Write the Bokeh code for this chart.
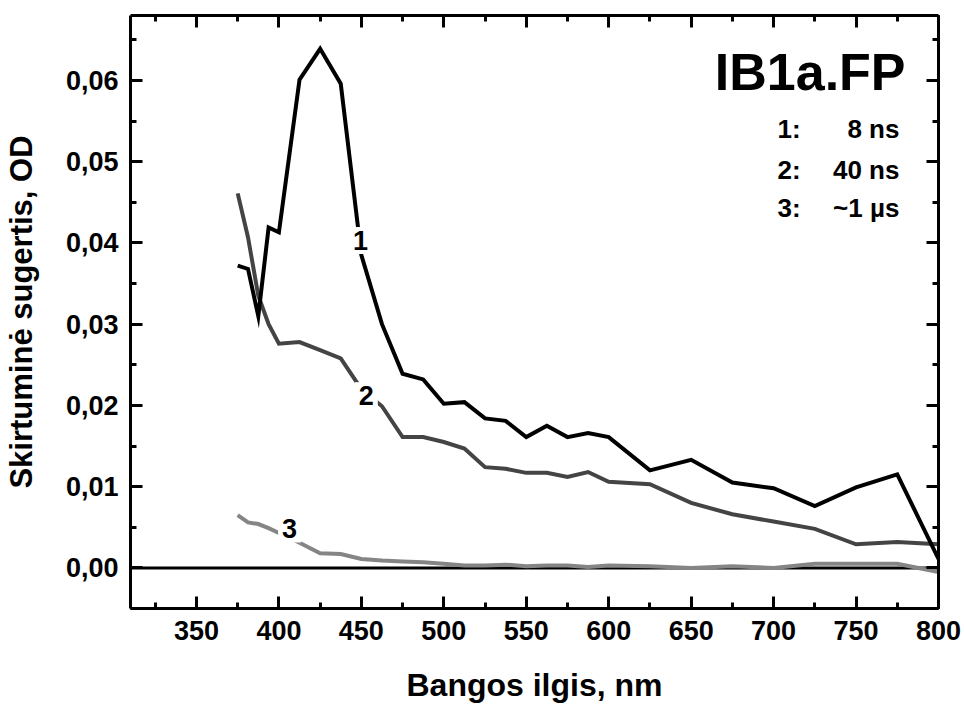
from bokeh.plotting import figure
from bokeh.models import (LinearAxis, SingleIntervalTicker, CustomJSTickFormatter,
                          Range1d, Span, Label)
from bokeh.embed import file_html
from bokeh.resources import INLINE

# ---- data ----
wl_nm = [375, 381.25, 387.5, 393.75, 400, 412.5, 425, 437.5, 450, 462.5, 475, 487.5,
         500, 512.5, 525, 537.5, 550, 562.5, 575, 587.5, 600, 625, 650, 675, 700,
         725, 750, 775, 800]
od_8ns = [0.0372, 0.0368, 0.0310, 0.0419, 0.0413, 0.0601, 0.0639, 0.0596, 0.0385, 0.0300,
          0.0239, 0.0232, 0.0202, 0.0204, 0.0184, 0.0181, 0.0161, 0.0175, 0.0161, 0.0166,
          0.0161, 0.0120, 0.0133, 0.0105, 0.0098, 0.0076, 0.0099, 0.0115, 0.0011]
od_40ns = [0.0461, 0.0407, 0.0335, 0.0300, 0.0276, 0.0278, 0.0268, 0.0258, 0.0220, 0.0199,
           0.0161, 0.0161, 0.0155, 0.0147, 0.0124, 0.0122, 0.0117, 0.0117, 0.0112, 0.0118,
           0.0106, 0.0103, 0.0080, 0.0066, 0.0057, 0.0048, 0.0029, 0.0032, 0.0029]
od_1us = [0.0065, 0.0056, 0.0054, 0.0049, 0.0043, 0.0031, 0.0018, 0.0017, 0.0011, 0.0009,
          0.0008, 0.0007, 0.0005, 0.0003, 0.0003, 0.0004, 0.0002, 0.0003, 0.0003, 0.0001,
          0.0003, 0.0002, 0.0000, 0.0002, 0.0000, 0.0005, 0.0005, 0.0005, -0.0005]

series_labels = ["1", "2", "3"]
legend_keys = ["1:", "2:", "3:"]
legend_vals = ["8 ns", "40 ns", "~1 \u00b5s"]
sample_name = "IB1a.FP"
x_title = "Bangos ilgis, nm"
y_title = "Skirtuminė sugertis, OD"
baseline = 0.0

FONT = "Liberation Sans"

p = figure(width=964, height=709, output_backend="svg", toolbar_location=None,
           x_range=Range1d(310, 800), y_range=Range1d(-0.005, 0.068),
           min_border_left=130, min_border_right=26, min_border_top=15,
           min_border_bottom=101, x_axis_type=None, y_axis_type=None)
p.grid.visible = False
p.outline_line_color = None
p.background_fill_color = "white"
p.border_fill_color = "white"

xt = SingleIntervalTicker(interval=50, num_minor_ticks=2)
yt = SingleIntervalTicker(interval=0.01, num_minor_ticks=2)
yfmt = CustomJSTickFormatter(code="var v = Math.abs(tick) < 1e-9 ? 0 : tick; return v.toFixed(2).replace('.', ',');")
xfmt = CustomJSTickFormatter(code="return Math.round(tick).toString();")
blank = CustomJSTickFormatter(code="return '';")


def style(ax, title_size="32px"):
    ax.axis_line_width = 3
    ax.axis_line_color = "black"
    ax.major_tick_in = 12
    ax.major_tick_out = 0
    ax.minor_tick_in = 6
    ax.minor_tick_out = 0
    ax.major_tick_line_width = 3
    ax.minor_tick_line_width = 3
    ax.major_tick_line_color = "black"
    ax.minor_tick_line_color = "black"
    ax.major_label_text_font = FONT
    ax.major_label_text_font_style = "bold"
    ax.major_label_text_font_size = "27px"
    ax.major_label_text_color = "black"
    ax.major_label_standoff = 12
    ax.axis_label_text_font = FONT
    ax.axis_label_text_font_style = "bold"
    ax.axis_label_text_font_size = title_size
    ax.axis_label_text_color = "black"


xb = LinearAxis(ticker=xt, formatter=xfmt, axis_label=x_title)
style(xb)
xb.axis_label_standoff = 24
p.add_layout(xb, "below")

xa = LinearAxis(ticker=xt, formatter=blank)
style(xa)
xa.major_label_standoff = 0
p.add_layout(xa, "above")

yl = LinearAxis(ticker=yt, formatter=yfmt, axis_label=y_title)
style(yl, "31px")
yl.axis_label_standoff = 24
p.add_layout(yl, "left")

yr = LinearAxis(ticker=yt, formatter=blank)
style(yr)
yr.major_label_standoff = 0
p.add_layout(yr, "right")

p.add_layout(Span(location=baseline, dimension="width", line_color="black",
                  line_width=3, level="underlay"))

p.line(wl_nm, od_1us, line_color="#858585", line_width=4, line_join="miter")
p.line(wl_nm, od_40ns, line_color="#444444", line_width=4, line_join="miter")
p.line(wl_nm, od_8ns, line_color="black", line_width=4, line_join="miter")

# curve number labels (white box interrupts the curve)
curve_label_pos = [(449.5, 0.0403), (453.0, 0.0212), (406.5, 0.0048)]
for txt, (lx, ly) in zip(series_labels, curve_label_pos):
    p.add_layout(Label(x=lx, y=ly, text=txt, text_font=FONT, text_font_style="bold",
                       text_font_size="27px", text_align="center", text_color="black",
                       text_baseline="middle", background_fill_color="white",
                       padding=4))

p.add_layout(Label(x=780, y=0.0611, text=sample_name, text_font=FONT,
                   text_font_style="bold", text_font_size="52px", text_align="right",
                   text_baseline="middle", text_color="black"))

legend_y = [0.0540, 0.0490, 0.0443]
for k, v, ly in zip(legend_keys, legend_vals, legend_y):
    p.add_layout(Label(x=702.4, y=ly, text=k, text_font=FONT, text_font_style="bold",
                       text_font_size="26px", text_align="left", text_baseline="middle",
                       text_color="black"))
    p.add_layout(Label(x=776.3, y=ly, text=v, text_font=FONT, text_font_style="bold",
                       text_font_size="26px", text_align="right", text_baseline="middle",
                       text_color="black"))

open("out.html", "w").write(file_html(p, INLINE))
